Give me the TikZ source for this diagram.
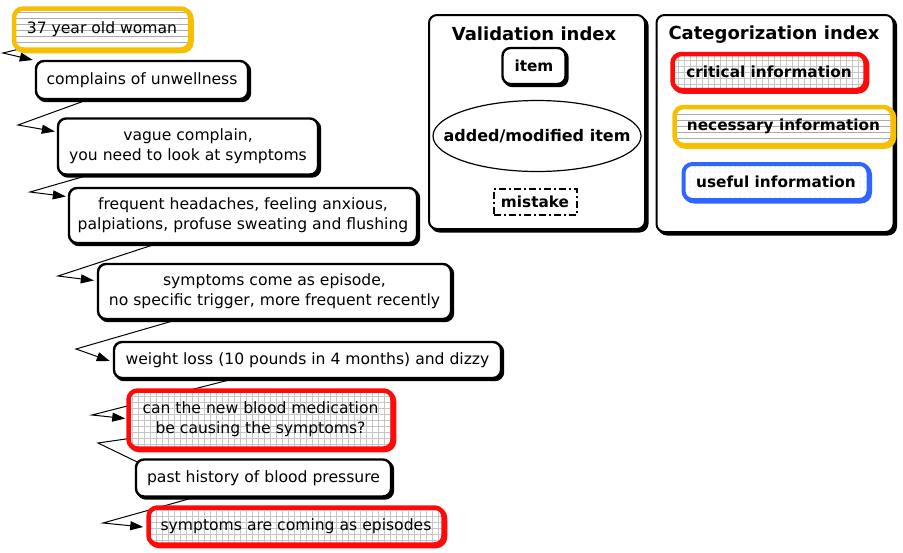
\documentclass[tikz,border=0pt]{standalone}
\usepackage{fontspec}
\setmainfont{DejaVu Sans}
\usetikzlibrary{shapes.geometric,arrows.meta,shadows,patterns.meta,calc}
\pgfdeclarelayer{bg}
\pgfsetlayers{bg,main}
\definecolor{critred}{RGB}{255,10,10}
\definecolor{necyellow}{RGB}{246,192,0}
\definecolor{useblue}{RGB}{50,100,255}
\begin{document}
\begin{tikzpicture}[x=1pt,y=-1pt,
  every node/.style={font=\fontsize{15.6}{20}\selectfont, align=center, inner sep=0pt},
  sizebox/.style 2 args={minimum width=#1, minimum height=#2},
  plainbox/.style={rectangle, rounded corners=8pt, draw=black, line width=2.4pt, fill=white,
    drop shadow={shadow xshift=2pt, shadow yshift=-2pt, fill=black, draw=black, line width=2.4pt, opacity=1}},
  critbox/.style={rectangle, rounded corners=9pt, draw=critred, line width=4.5pt,
    drop shadow={shadow xshift=1.5pt, shadow yshift=-1.5pt, fill=critred, draw=critred, line width=4.5pt, opacity=1},
    preaction={fill=white}, pattern={Hatch[angle=0,distance=6pt,line width=0.5pt]}, pattern color=gray!45},
  necbox/.style={rectangle, rounded corners=9pt, draw=necyellow, line width=4.5pt,
    drop shadow={shadow xshift=1.5pt, shadow yshift=-1.5pt, fill=necyellow, draw=necyellow, line width=4.5pt, opacity=1},
    preaction={fill=white}, pattern={Lines[angle=0,distance=6pt,line width=0.8pt]}, pattern color=gray!65},
  usebox/.style={rectangle, rounded corners=9pt, draw=useblue, line width=4pt,
    drop shadow={shadow xshift=1.5pt, shadow yshift=-1.5pt, fill=useblue, draw=useblue, line width=4pt, opacity=1},
    preaction={fill=white}, pattern={Dots[distance=5pt,radius=0.45pt]}, pattern color=gray!80},
  legendbox/.style={rectangle, rounded corners=8pt, draw=black, line width=2pt, fill=white,
    drop shadow={shadow xshift=2.5pt, shadow yshift=-2.5pt, fill=black, draw=black, line width=2pt, opacity=1}},
  boldtxt/.style={font=\fontsize{15.3}{18}\bfseries\selectfont},
  titletxt/.style={font=\fontsize{18}{21}\bfseries\selectfont},
  conn/.style={draw=black, line width=1pt, -{Triangle[length=13pt,width=9pt]}}
]
\useasboundingbox (0,0) rectangle (903,552);

% flow nodes
\node[necbox, sizebox={176pt}{41pt}] (n1) at (102,29) {37 year old woman};
\node[plainbox, sizebox={212pt}{38pt}] (n2) at (142,80) {complains of unwellness};
\node[plainbox, sizebox={260pt}{56pt}] (n3) at (188,146.5) {vague complain,\\you need to look at symptoms};
\node[plainbox, sizebox={348pt}{55pt}] (n4) at (243,215.5) {frequent headaches, feeling anxious,\\palpiations, profuse sweating and flushing};
\node[plainbox, sizebox={353pt}{55pt}] (n5) at (274.5,291.5) {symptoms come as episode,\\no specific trigger, more frequent recently};
\node[plainbox, sizebox={387pt}{36pt}] (n6) at (307.5,360) {weight loss (10 pounds in 4 months) and dizzy};
\node[critbox, sizebox={264pt}{58pt}] (n7) at (260.5,419.5) {can the new blood medication\\be causing the symptoms?};
\node[plainbox, sizebox={255pt}{37pt}] (n8) at (263.5,478) {past history of blood pressure};
\node[critbox, sizebox={295pt}{37pt}] (n9) at (296,526) {symptoms are coming as episodes};

% bends
\coordinate (k1) at (3,53);
\coordinate (k2) at (18,125);
\coordinate (k3) at (30,192);
\coordinate (k4) at (58,276);
\coordinate (k5) at (76,349);
\coordinate (k6) at (92,415);
\coordinate (k7) at (98,443);
\coordinate (k8) at (103,523);

\begin{pgfonlayer}{bg}
\fill[white] (0,0) rectangle (903,552);
\draw[conn] (n1.center) -- (k1) -- ($(n2.west)+(-2,-20)$);
\draw[conn] (n2.center) -- (k2) -- ($(n3.west)+(-2,-15)$);
\draw[conn] (n3.center) -- (k3) -- ($(n4.west)+(-2,-19)$);
\draw[conn] (n4.center) -- (k4) -- ($(n5.west)+(-3,-11)$);
\draw[conn] (n5.center) -- (k5) -- ($(n6.west)+(-3,1)$);
\draw[conn] (n6.center) -- (k6) -- ($(n7.west)+(-3,-1)$);
\draw[conn] (n7.center) -- (k7) -- ($(n8.north west)+(32,18)$);
\draw[conn] (n8.center) -- (k8) -- ($(n9.west)+(-3,1)$);
\end{pgfonlayer}

% validation index
\node[legendbox, sizebox={216pt}{214pt}] (vbox) at (537,122) {};
\node[titletxt] (vtitle) at (534,34) {Validation index};
\node[plainbox, boldtxt, sizebox={63pt}{36pt}] (vitem) at (534,66) {item};
\node[ellipse, draw=black, line width=1.2pt, fill=white, font=\fontsize{16}{19}\bfseries\selectfont, inner xsep=-40pt, inner ysep=0pt, sizebox={208pt}{71pt}] (vadd) at (537,136) {added/modified item};
\node[rectangle, draw=black, line width=2pt, dash pattern=on 7pt off 3pt on 2pt off 3pt, fill=white, boldtxt, sizebox={83pt}{26pt}] (vmis) at (535,201.5) {mistake};

% categorization index
\node[legendbox, sizebox={237pt}{217pt}] (cbox) at (775,123.5) {};
\node[titletxt] (ctitle) at (774,35) {Categorization index};
\node[critbox, boldtxt, sizebox={193pt}{36pt}] (ccrit) at (769,72) {critical information};
\node[necbox, boldtxt, sizebox={218pt}{38pt}] (cnec) at (783.5,126) {necessary information};
\node[usebox, boldtxt, sizebox={185pt}{36pt}] (cuse) at (776,182) {useful information};
\end{tikzpicture}
\end{document}
